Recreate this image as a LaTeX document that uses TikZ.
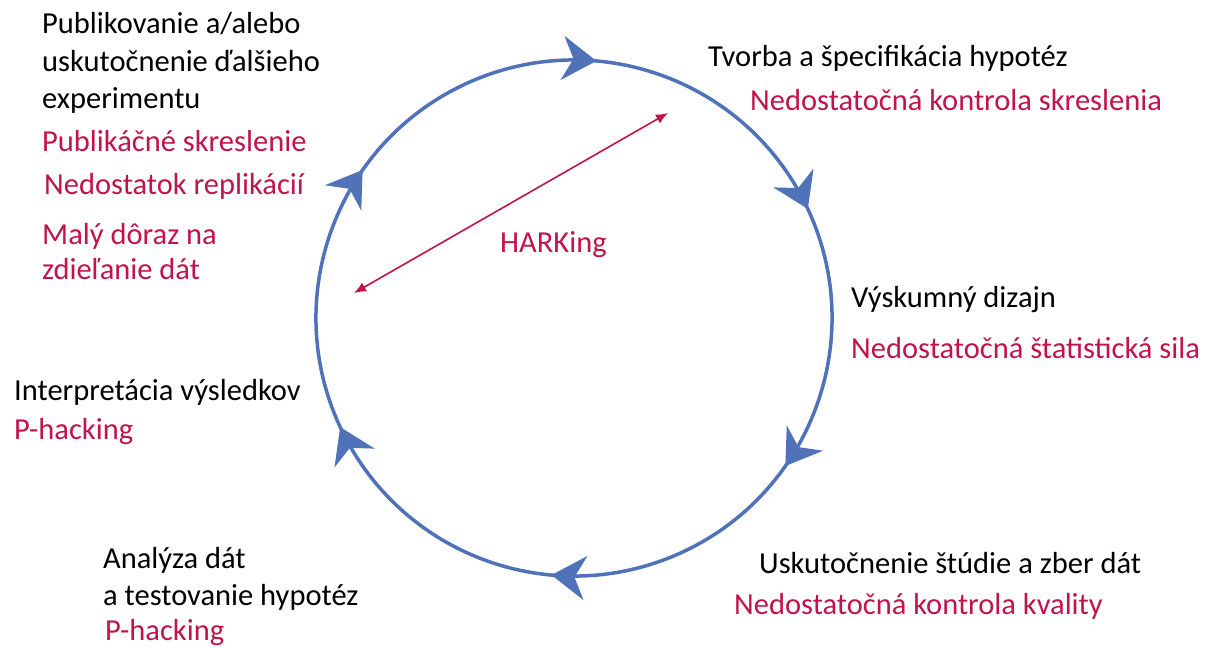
\documentclass[tikz,border=0pt]{standalone}
\usepackage{fontspec}
\setmainfont{Carlito}
\usepackage{tikz}
\usetikzlibrary{arrows.meta}
\usetikzlibrary{decorations.markings,positioning}

\definecolor{cycleblue}{RGB}{79,114,185}
\definecolor{issuered}{RGB}{192,20,75}

\begin{document}
\begin{tikzpicture}[x=1pt,y=-1pt,
        stage/.style={inner sep=0pt, anchor=west, align=left, text=black,
        font=\fontsize{30.5}{37.5}\selectfont},
        issue/.style={stage, text=issuered},
        cycle/.style={draw=cycleblue, line width=3.5pt,
        decoration={markings, mark=between positions 0.08333 and 0.99 step 0.16667
        with {\arrow{Stealth[length=34pt, width=44pt, inset=11pt]}}},
        postaction=decorate}]
        \useasboundingbox (0,0) rectangle (1211,648);

        \coordinate (center) at (574,318);
        \draw[cycle] (center) ++(-115:258) arc[start angle=-115, end angle=245, radius=258];

        \node (publish) [stage] at (42,63) {Publikovanie a/alebo\\ uskutočnenie ďalšieho\\ experimentu};
        \node (pubbias) [issue] at (42,141) {Publikáčné skreslenie};
        \node (replication) [issue] at (44,186) {Nedostatok replikácií};
        \node (sharing) [issue, font=\fontsize{30.5}{35}\selectfont] at (42,252) {Malý dôraz na\\ zdieľanie dát};

        \node (hypothesis) [stage] at (708,58) {Tvorba a špecifikácia hypotéz};
        \node (hypbias) [issue] at (750,100) {Nedostatočná kontrola skreslenia};

        \node (design) [stage] at (851,300) {Výskumný dizajn};
        \node (power) [issue] at (851,348) {Nedostatočná štatistická sila};

        \node (study) [stage] at (759,563) {Uskutočnenie štúdie a zber dát};
        \node (quality) [issue] at (734,606) {Nedostatočná kontrola kvality};

        \node (analysis) [stage] at (103,579) {Analýza dát\\ a testovanie hypotéz};
        \node (anahack) [issue] at (105,633) {P-hacking};

        \node (interpret) [stage] at (14,392) {Interpretácia výsledkov};
        \node (interphack) [issue] at (14,432) {P-hacking};

        \node (harking) [issue] at (500,245) {HARKing};
        \coordinate (harkstart) at (354,293);
        \coordinate (harkend) at (668,113);
        \draw[issuered, line width=1.6pt, {Latex[length=12pt,width=10pt]}-{Latex[length=12pt,width=10pt]}] (harkstart) -- (harkend);
\end{tikzpicture}
\end{document}
